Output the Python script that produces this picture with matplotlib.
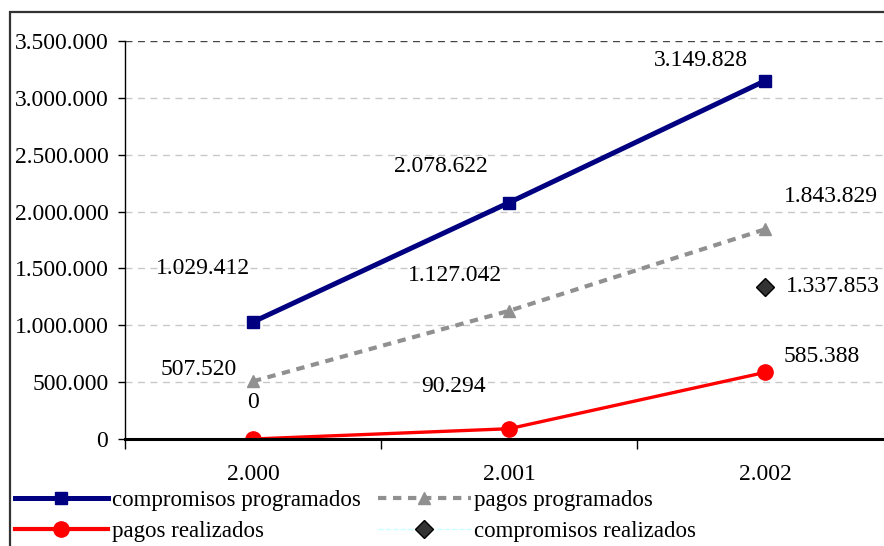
import matplotlib.pyplot as plt
from matplotlib.patches import Rectangle
from matplotlib.lines import Line2D

plt.rcParams['font.family'] = ['Liberation Serif', 'DejaVu Serif']

years = ['2.000', '2.001', '2.002']
compromisos_prog = [1029412, 2078622, 3149828]
pagos_prog = [507520, 1127042, 1843829]
pagos_real = [0, 90294, 585388]
compromisos_real = [None, None, 1337853]
y_ticks = [0, 500000, 1000000, 1500000, 2000000, 2500000, 3000000, 3500000]


def fmt(v):
    return f"{v:,.0f}".replace(",", ".")


fig = plt.figure(figsize=(8.84, 5.46), dpi=100)

# outer chart frame (only left and top edges fall inside the image)
fig.patches.append(Rectangle((10 / 884, -0.1), 1.2, 1 - 12 / 546 + 0.1,
                             transform=fig.transFigure, fill=False,
                             edgecolor='#333333', linewidth=1.6))

ax = fig.add_axes([125 / 884, 1 - 439 / 546, 768 / 884, 398 / 546])
xs = [0.5, 1.5, 2.5]

for v in y_ticks[1:-1]:
    ax.axhline(v, color='#c8c8c8', linestyle=(0, (5, 4)), linewidth=1, zorder=0)
ax.axhline(y_ticks[-1], color='#444444', linestyle=(0, (5, 4)), linewidth=1, zorder=0)

ax.plot(xs, compromisos_prog, color='#000080', linewidth=3.6, marker='s',
        markersize=8, zorder=3)
ax.plot(xs, pagos_prog, color='#909090', linewidth=3, linestyle=(0, (2, 1.6)),
        marker='^', markersize=9, zorder=3)
ax.plot(xs, pagos_real, color='#ff0000', linewidth=2.4, marker='o',
        markersize=11, zorder=3)
ax.plot([xs[2]], [compromisos_real[2]], color='#ccffff', linestyle='--',
        marker='D', markersize=9, markerfacecolor='#333333',
        markeredgecolor='#000000', zorder=3)

label_kw = dict(textcoords='offset pixels', fontsize=17, ha='center', va='center')
offsets_cp = [(-50, 53), (-68, 36), (-64, 20)]
for x, v, off in zip(xs, compromisos_prog, offsets_cp):
    ax.annotate(fmt(v), (x, v), xytext=off, **label_kw)
offsets_pp = [(-54, 12), (-54, 35), (66, 33)]
for x, v, off in zip(xs, pagos_prog, offsets_pp):
    ax.annotate(fmt(v), (x, v), xytext=off, **label_kw)
offsets_pr = [(0, 37), (-55, 42), (57, 16)]
for x, v, off in zip(xs, pagos_real, offsets_pr):
    ax.annotate(fmt(v), (x, v), xytext=off, **label_kw)
ax.annotate(fmt(compromisos_real[2]), (xs[2], compromisos_real[2]),
            xytext=(68, 0), **label_kw)

ax.set_xlim(0, 3)
ax.set_ylim(0, 3500000)
ax.set_yticks(y_ticks)
ax.set_yticklabels([fmt(v) for v in y_ticks], fontsize=17)
ax.set_xticks([0, 1, 2, 3])
ax.set_xticklabels([])
ax.set_xticks(xs, minor=True)
ax.set_xticklabels(years, minor=True, fontsize=17)
ax.tick_params(axis='x', which='major', length=7, width=1, direction='out')
ax.tick_params(axis='x', which='minor', length=0, pad=18)
ax.tick_params(axis='y', length=5, width=1, direction='out', pad=7)

for s in ['top', 'right']:
    ax.spines[s].set_visible(False)
ax.spines['left'].set_linewidth(1)
ax.spines['bottom'].set_linewidth(2.2)
ax.spines['bottom'].set_zorder(4)

handles = [
    Line2D([], [], color='#000080', linewidth=3.6, marker='s', markersize=8),
    Line2D([], [], color='#ff0000', linewidth=3, marker='o', markersize=11),
    Line2D([], [], color='#909090', linewidth=3, linestyle=(0, (2, 1.6)),
           marker='^', markersize=9),
    Line2D([], [], color='#ccffff', linewidth=1, linestyle='--', marker='D',
           markersize=9, markerfacecolor='#333333', markeredgecolor='#000000'),
]
labels = ['compromisos programados', 'pagos realizados',
          'pagos programados', 'compromisos realizados']
fig.legend(handles, labels, loc='upper left', bbox_to_anchor=(15 / 884, 1 - 490 / 546),
           ncol=2, frameon=False, fontsize=16.5, handlelength=4.05, handletextpad=0.17,
           columnspacing=0.75, labelspacing=0.45, borderpad=0, borderaxespad=0)

fig.savefig('out.png', dpi=100)
